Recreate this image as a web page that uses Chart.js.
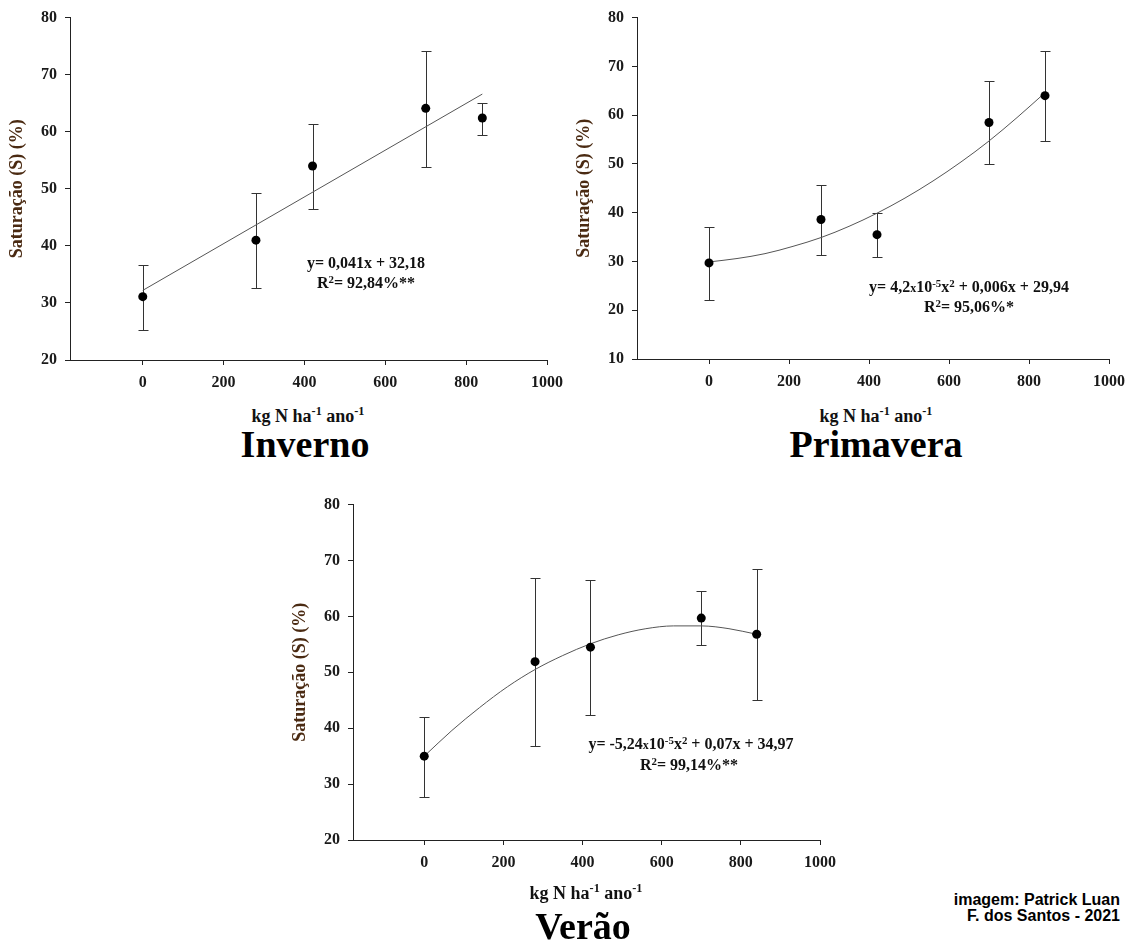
<!DOCTYPE html>
<html>
<head>
<meta charset="utf-8">
<script src="https://cdn.jsdelivr.net/npm/chart.js@4.4.1/dist/chart.umd.min.js"></script>
<style>
html,body{margin:0;padding:0;background:#fff;overflow:hidden;width:1133px;height:942px;}
canvas{position:absolute;}
.t{position:absolute;font-family:'Liberation Serif','Times New Roman',serif;font-weight:bold;color:#111;white-space:nowrap;transform:translate(-50%,-50%);}
.eq{font-size:16px;}
.xt{font-size:18px;}
.season{font-size:38px;color:#000;}
sup{font-size:0.68em;vertical-align:0.5em;line-height:0;}
.sx{font-size:0.75em;}
.credit{position:absolute;right:13px;top:892px;font-family:'Liberation Sans',Arial,sans-serif;font-weight:bold;font-size:16px;line-height:16px;text-align:right;color:#000;}
</style>
</head>
<body>
<canvas id="c1" width="590" height="400" style="left:0px;top:0px"></canvas>
<canvas id="c2" width="566" height="400" style="left:567px;top:0px"></canvas>
<canvas id="c3" width="580" height="400" style="left:283px;top:487px"></canvas>

<div class="t eq" style="left:366px;top:263px">y= 0,041x + 32,18</div>
<div class="t eq" style="left:366px;top:283px">R<sup>2</sup>= 92,84%**</div>
<div class="t xt" style="left:308px;top:416px">kg N ha<sup>-1</sup> ano<sup>-1</sup></div>
<div class="t season" style="left:305px;top:444px">Inverno</div>

<div class="t eq" style="left:969px;top:287px">y= 4,2<span class="sx">x</span>10<sup>-5</sup>x<sup>2</sup> + 0,006x + 29,94</div>
<div class="t eq" style="left:969px;top:307px">R<sup>2</sup>= 95,06%*</div>
<div class="t xt" style="left:876px;top:416px">kg N ha<sup>-1</sup> ano<sup>-1</sup></div>
<div class="t season" style="left:876px;top:444px">Primavera</div>

<div class="t eq" style="left:691px;top:744px">y= -5,24<span class="sx">x</span>10<sup>-5</sup>x<sup>2</sup> + 0,07x + 34,97</div>
<div class="t eq" style="left:689px;top:765px">R<sup>2</sup>= 99,14%**</div>
<div class="t xt" style="left:586px;top:893px">kg N ha<sup>-1</sup> ano<sup>-1</sup></div>
<div class="t season" style="left:583px;top:926px">Verão</div>

<div class="credit">imagem: Patrick Luan<br>F. dos Santos - 2021</div>

<script>
// ---- data ----
const doses = [0, 280, 420, 700, 840];
const xTickValues = [0, 200, 400, 600, 800, 1000];
const yTicks20 = [20, 30, 40, 50, 60, 70, 80];
const yTicks10 = [10, 20, 30, 40, 50, 60, 70, 80];

const invernoMean  = [31.1, 41.0, 54.0, 64.1, 62.4];
const invernoUpper = [36.6, 49.2, 61.3, 74.2, 65.1];
const invernoLower = [25.3, 32.7, 46.5, 53.8, 59.5];
const invernoFitX  = [0, 840];
const invernoFitY  = [32.2, 66.6];

const primaveraMean  = [29.7, 38.6, 35.5, 58.5, 64.0];
const primaveraUpper = [37.0, 45.6, 40.0, 67.0, 73.2];
const primaveraLower = [22.0, 31.3, 30.9, 49.9, 54.6];

const curveX = [0, 70, 140, 210, 280, 350, 420, 490, 560, 630, 700, 770, 840];
const primaveraFitY = [29.9, 30.6, 31.6, 33.1, 34.9, 37.2, 39.9, 43.0, 46.5, 50.4, 54.7, 59.5, 64.6];

const veraoMean  = [35.0, 51.9, 54.5, 59.7, 56.8];
const veraoUpper = [42.0, 66.8, 66.6, 64.5, 68.4];
const veraoLower = [27.7, 36.8, 42.4, 54.9, 45.1];
const veraoFitY  = [35.0, 39.6, 43.7, 47.4, 50.5, 53.0, 55.1, 56.7, 57.8, 58.3, 58.3, 57.8, 56.8];

const yTitle = 'Saturação (S) (%)';

// ---- helpers ----
function errorBarPlugin(xs, upper, lower) {
  return {
    id: 'errorBars',
    beforeDatasetsDraw(chart) {
      const ctx = chart.ctx, xs_ = chart.scales.x, ys_ = chart.scales.y;
      ctx.save();
      ctx.strokeStyle = '#333';
      ctx.lineWidth = 1;
      const cap = 5;
      xs.forEach((xv, i) => {
        const px = Math.round(xs_.getPixelForValue(xv)) + 0.5;
        const pu = Math.round(ys_.getPixelForValue(upper[i])) + 0.5;
        const pl = Math.round(ys_.getPixelForValue(lower[i])) + 0.5;
        ctx.beginPath();
        ctx.moveTo(px, pu); ctx.lineTo(px, pl);
        ctx.moveTo(px - cap, pu); ctx.lineTo(px + cap, pu);
        ctx.moveTo(px - cap, pl); ctx.lineTo(px + cap, pl);
        ctx.stroke();
      });
      ctx.restore();
    }
  };
}

const tickFont = {family: "'Liberation Serif', 'Times New Roman', serif", weight: 'bold', size: 16};

function makeChart(id, o) {
  const ctx = document.getElementById(id);
  return new Chart(ctx, {
    type: 'scatter',
    data: {
      datasets: [
        {
          data: doses.map((x, i) => ({x: x, y: o.mean[i]})),
          pointRadius: 4.5,
          pointHoverRadius: 4.5,
          backgroundColor: '#000',
          borderColor: '#000',
          borderWidth: 0
        },
        {
          data: o.fitX.map((x, i) => ({x: x, y: o.fitY[i]})),
          showLine: true,
          pointRadius: 0,
          borderColor: '#555',
          borderWidth: 1,
          cubicInterpolationMode: 'monotone',
          fill: false
        }
      ]
    },
    options: {
      responsive: false,
      animation: false,
      devicePixelRatio: 1,
      layout: {padding: o.padding},
      plugins: {legend: {display: false}, tooltip: {enabled: false}},
      events: [],
      scales: {
        x: {
          type: 'linear',
          min: -180,
          max: 1000,
          afterBuildTicks: s => { s.ticks = xTickValues.map(v => ({value: v})); },
          afterFit: s => { s.height = 30; },
          grid: {drawOnChartArea: false, drawTicks: true, tickLength: 5, color: '#222'},
          border: {display: true, color: '#222', width: 1},
          ticks: {font: tickFont, color: '#1a1a1a', padding: 8, maxRotation: 0, autoSkip: false, callback: v => String(v)}
        },
        y: {
          type: 'linear',
          min: o.yTicks[0],
          max: o.yTicks[o.yTicks.length - 1],
          afterBuildTicks: s => { s.ticks = o.yTicks.map(v => ({value: v})); },
          afterFit: s => { s.width = 70; },
          grid: {drawOnChartArea: false, drawTicks: true, tickLength: 5, color: '#222'},
          border: {display: true, color: '#222', width: 1},
          ticks: {font: tickFont, color: '#1a1a1a', padding: 8, autoSkip: false, callback: v => String(v)},
          title: {
            display: true,
            text: yTitle,
            color: '#4a2a12',
            font: {family: "'Liberation Serif', 'Times New Roman', serif", weight: 'bold', size: 18},
            padding: {top: 7, bottom: 0}
          }
        }
      }
    },
    plugins: [errorBarPlugin(doses, o.upper, o.lower)]
  });
}

makeChart('c1', {
  mean: invernoMean, upper: invernoUpper, lower: invernoLower,
  fitX: invernoFitX, fitY: invernoFitY, yTicks: yTicks20,
  padding: {left: 0, top: 16, right: 43, bottom: 10}
});
makeChart('c2', {
  mean: primaveraMean, upper: primaveraUpper, lower: primaveraLower,
  fitX: curveX, fitY: primaveraFitY, yTicks: yTicks10,
  padding: {left: 0, top: 16, right: 19, bottom: 11}
});
makeChart('c3', {
  mean: veraoMean, upper: veraoUpper, lower: veraoLower,
  fitX: curveX, fitY: veraoFitY, yTicks: yTicks20,
  padding: {left: 0, top: 16, right: 43, bottom: 17}
});
</script>
</body>
</html>
